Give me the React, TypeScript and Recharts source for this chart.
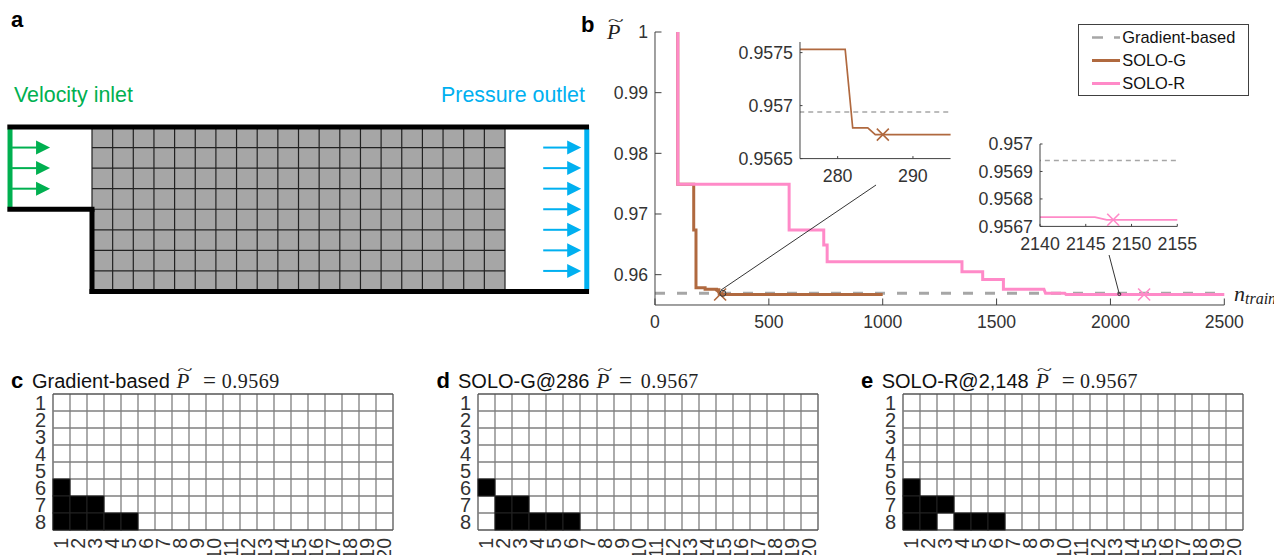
import {
  ComposedChart,
  Line,
  Scatter,
  XAxis,
  YAxis,
  Legend,
  ReferenceLine,
  ReferenceArea,
  ReferenceDot,
} from "recharts";

const SANS = "'Liberation Sans', Arial, sans-serif";
const SERIF = "'Liberation Serif', serif";
const GRAY = "#a6a6a6";
const BROWN = "#b0693f";
const PINK = "#ff8ac8";
const AXIS = "#404040";
const GREEN = "#00b050";
const CYAN = "#00b0f0";

// panel b: convergence curves
const gradientX = [0, 2500];
const gradientY = [0.95694, 0.95694];

const soloGX = [100, 100, 170, 170, 180, 180, 220, 220, 270, 270, 281, 282, 284, 285, 1000];
const soloGY = [1, 0.9749, 0.9749, 0.96737, 0.96737, 0.95785, 0.95785, 0.9576, 0.9576, 0.95753, 0.95753, 0.956789, 0.956789, 0.956726, 0.956726];

const soloRX = [100, 100, 589, 589, 741, 741, 756, 756, 1348, 1348, 1439, 1439, 1530, 1530, 1708, 1715, 1800, 1805, 2146, 2147.3, 2500];
const soloRY = [1, 0.9749, 0.9749, 0.96737, 0.96737, 0.9649, 0.9649, 0.96214, 0.96214, 0.9605, 0.9605, 0.9592, 0.9592, 0.9576, 0.9576, 0.95692, 0.95692, 0.956734, 0.956734, 0.956724, 0.956724];

const bestG = [{ x: 286, y: 0.956726 }];
const bestR = [{ x: 2148, y: 0.956724 }];

const mainXTicks = [0, 500, 1000, 1500, 2000, 2500];
const mainYTicks = [0.96, 0.97, 0.98, 0.99, 1];
const insetGXTicks = [280, 290];
const insetGYTicks = [0.9565, 0.957, 0.9575];
const insetRXTicks = [2140, 2145, 2150, 2155];
const insetRYTicks = [0.9567, 0.9568, 0.9569, 0.957];

// panel c, d, e: filled design cells per row
const rowLabels = [1, 2, 3, 4, 5, 6, 7, 8];
const colLabels = [1, 2, 3, 4, 5, 6, 7, 8, 9, 10, 11, 12, 13, 14, 15, 16, 17, 18, 19, 20];
const gradientCells: [number, number[]][] = [[6, [1]], [7, [1, 2, 3]], [8, [1, 2, 3, 4, 5]]];
const soloGCells: [number, number[]][] = [[6, [1]], [7, [2, 3]], [8, [2, 3, 4, 5, 6]]];
const soloRCells: [number, number[]][] = [[6, [1]], [7, [1, 2, 3]], [8, [1, 2, 4, 5, 6]]];

// panel a: geometry in cell units
const meshCols = [0, 1, 2, 3, 4, 5, 6, 7, 8, 9, 10, 11, 12, 13, 14, 15, 16, 17, 18, 19, 20];
const meshRows = [0, 1, 2, 3, 4, 5, 6, 7, 8];
const walls = [
  [-4.1, 0, 24.07, 0],
  [-4.1, 4, 0.12, 4],
  [0, 4, 0, 8.12],
  [-0.12, 8, 24.07, 8],
];
const inletWall = [-3.97, 0.1, -3.97, 3.9];
const outletWall = [23.96, 0.1, 23.96, 7.9];
const inletArrows = [{ x: -3.87, y: 1 }, { x: -3.87, y: 2 }, { x: -3.87, y: 3 }];
const outletArrows = [1, 2, 3, 4, 5, 6, 7].map((y) => ({ x: 21.85, y }));

const zip = (xs: number[], ys: number[]) => xs.map((x, i) => ({ x, y: ys[i] }));

const makeTick =
  (side: string, len: number, size: number, gap: number, fmt?: (v: number) => string) =>
  (props: any) => {
    const { x, y, payload } = props;
    const label = fmt ? fmt(payload.value) : "";
    if (side === "bottom")
      return (
        <g>
          <line x1={x} x2={x} y1={y} y2={y - len} stroke={AXIS} />
          <text x={x} y={y + gap + size * 0.36} textAnchor="middle" fontSize={size} fontFamily={SANS} fill="#333">
            {label}
          </text>
        </g>
      );
    if (side === "left")
      return (
        <g>
          <line x1={x} x2={x + len} y1={y} y2={y} stroke={AXIS} />
          <text x={x - gap} y={y + size * 0.36} textAnchor="end" fontSize={size} fontFamily={SANS} fill="#333">
            {label}
          </text>
        </g>
      );
    if (side === "top") return <line x1={x} x2={x} y1={y} y2={y + len} stroke={AXIS} />;
    return <line x1={x} x2={x - len} y1={y} y2={y} stroke={AXIS} />;
  };

const Cross = (color: string) => (props: any) => {
  const { cx, cy } = props;
  return (
    <path d={`M${cx - 6} ${cy - 6}L${cx + 6} ${cy + 6}M${cx - 6} ${cy + 6}L${cx + 6} ${cy - 6}`} stroke={color} strokeWidth={1.6} fill="none" />
  );
};

const Arrow = (color: string) => (props: any) => {
  const { cx, cy } = props;
  return (
    <g>
      <line x1={cx} x2={cx + 25} y1={cy} y2={cy} stroke={color} strokeWidth={2} />
      <path d={`M${cx + 24} ${cy - 7}L${cx + 38} ${cy}L${cx + 24} ${cy + 7}Z`} fill={color} />
    </g>
  );
};

const Square = (props: any) => (
  <rect x={props.cx - 8.5} y={props.cy - 8.5} width={17} height={17} fill="#000" stroke="#222" strokeWidth={1} />
);

const LegendBox = (props: any) => (
  <div style={{ width: 171, height: 72, boxSizing: "border-box", border: `1px solid ${AXIS}`, background: "#fff", position: "relative" }}>
    {(props.payload || [])
      .filter((p: any) => p.type !== "none")
      .map((p: any, i: number) => (
        <div key={p.value} style={{ position: "absolute", left: 0, top: 1 + i * 23, height: 23, width: 170 }}>
          <svg width={44} height={23} style={{ position: "absolute", left: 0, top: 0 }}>
            <line x1={13} x2={41} y1={11.5} y2={11.5} stroke={p.color} strokeWidth={i === 0 ? 2.5 : 3} strokeDasharray={i === 0 ? "11 11" : undefined} />
          </svg>
          <span style={{ position: "absolute", left: 43, top: 2, fontFamily: SANS, fontSize: 16.4, lineHeight: "19px", color: "#111", whiteSpace: "nowrap" }}>{p.value}</span>
        </div>
      ))}
  </div>
);

const MainChart = () => {
  const L = 655;
  const W = 569.3;
  return (
    <div style={{ position: "absolute", left: L - 60, top: 2 }}>
      <ComposedChart width={W + 60 + 50} height={303 + 40} margin={{ top: 30, right: 50, left: 0, bottom: 0 }}>
        <XAxis dataKey="x" type="number" domain={[0, 2500]} ticks={mainXTicks} interval={0} height={40} tickSize={0} tickMargin={0} tickLine={false} stroke={AXIS} tick={makeTick("bottom", 6.5, 17.6, 17, String)} />
        <YAxis dataKey="y" type="number" domain={[0.955, 1]} ticks={mainYTicks} interval={0} width={60} tickSize={0} tickMargin={0} tickLine={false} stroke={AXIS} tick={makeTick("left", 6.5, 17.6, 7, String)} />
        <Line name="Gradient-based" data={zip(gradientX, gradientY)} dataKey="y" type="linear" stroke={GRAY} strokeWidth={3} strokeDasharray="10 12" dot={false} isAnimationActive={false} />
        <Line name="SOLO-G" data={zip(soloGX, soloGY)} dataKey="y" type="linear" stroke={BROWN} strokeWidth={3} dot={false} isAnimationActive={false} />
        <Line name="SOLO-R" data={zip(soloRX, soloRY)} dataKey="y" type="linear" stroke={PINK} strokeWidth={3} dot={false} isAnimationActive={false} />
        <Scatter data={bestG} dataKey="y" legendType="none" shape={Cross(BROWN)} isAnimationActive={false} />
        <Scatter data={bestR} dataKey="y" legendType="none" shape={Cross(PINK)} isAnimationActive={false} />
        <ReferenceLine segment={[{ x: 290, y: 0.95747 }, { x: 970.6, y: 0.97478 }]} stroke="#333" strokeWidth={1} ifOverflow="visible" />
        <ReferenceLine segment={[{ x: 1994, y: 0.96324 }, { x: 2039, y: 0.9568 }]} stroke="#333" strokeWidth={1} ifOverflow="visible" />
        <ReferenceDot x={298} y={0.95692} r={3} fill="none" stroke="#333" strokeWidth={1} ifOverflow="visible" />
        <ReferenceDot x={2039} y={0.9568} r={1.5} fill="none" stroke="#333" strokeWidth={1} ifOverflow="visible" />
        <Legend layout="horizontal" verticalAlign="middle" align="center" content={LegendBox} wrapperStyle={{ left: 1078.3 - (L - 60), top: 21.7, width: 171, height: 72 }} />
      </ComposedChart>
    </div>
  );
};

const Inset = ({ left, top, w, h, xDomain, yDomain, xTicks, yTicks, color, xs, ys, best, xGap }: any) => (
  <div style={{ position: "absolute", left: left - 70, top: top - 12 }}>
    <ComposedChart width={w + 70 + 30} height={h + 12 + 32} margin={{ top: 12, right: 30, left: 0, bottom: 0 }}>
      <XAxis dataKey="x" type="number" allowDataOverflow domain={xDomain} ticks={xTicks} interval={0} height={32} tickSize={0} tickMargin={0} tickLine={false} stroke={AXIS} tick={makeTick("bottom", 2.5, 17.8, xGap, String)} />
      <XAxis xAxisId="top" orientation="top" dataKey="x" type="number" allowDataOverflow domain={xDomain} ticks={xTicks} interval={0} height={0} tickSize={0} tickMargin={0} tickLine={false} stroke={AXIS} tick={makeTick("top", 2.5, 0, 0)} />
      <YAxis dataKey="y" type="number" allowDataOverflow domain={yDomain} ticks={yTicks} interval={0} width={70} tickSize={0} tickMargin={0} tickLine={false} stroke={AXIS} tick={makeTick("left", 2.5, 17.8, 7, String)} />
      <YAxis yAxisId="right" orientation="right" dataKey="y" type="number" allowDataOverflow domain={yDomain} ticks={yTicks} interval={0} width={0} tickSize={0} tickMargin={0} tickLine={false} stroke={AXIS} tick={makeTick("right", 2.5, 0, 0)} />
      <Line data={zip(gradientX, gradientY)} dataKey="y" type="linear" stroke={GRAY} strokeWidth={1.4} strokeDasharray="5 4" dot={false} isAnimationActive={false} />
      <Line data={zip(xs, ys)} dataKey="y" type="linear" stroke={color} strokeWidth={1.7} dot={false} isAnimationActive={false} />
      {/* second pair of axes only carries the box ticks */}
      <Line xAxisId="top" yAxisId="right" data={zip(xs, ys)} dataKey="y" type="linear" stroke="none" dot={false} isAnimationActive={false} />
      <Scatter data={best} dataKey="y" shape={Cross(color)} isAnimationActive={false} />
    </ComposedChart>
  </div>
);

const DesignGrid = ({ left, cells }: { left: number; cells: [number, number[]][] }) => (
  <div style={{ position: "absolute", left: left - 30, top: 394.3 - 5 }}>
    <ComposedChart width={340 + 30 + 5} height={136 + 5 + 40} margin={{ top: 5, right: 5, left: 0, bottom: 0 }}>
      <XAxis dataKey="x" type="number" domain={[0.5, 20.5]} ticks={colLabels} interval={0} height={40} tickSize={0} tickMargin={0} axisLine={false} tickLine={false}
        tick={(p: any) => (
          <text transform={`rotate(-90 ${p.x + 6.8} ${p.y + 8})`} x={p.x + 6.8} y={p.y + 8} textAnchor="end" fontSize={19.5} fontFamily={SANS} fill="#333">
            {p.payload.value}
          </text>
        )}
      />
      <YAxis dataKey="y" type="number" reversed domain={[0.5, 8.5]} ticks={rowLabels} interval={0} width={30} tickSize={0} tickMargin={0} axisLine={false} tickLine={false}
        tick={(p: any) => (
          <text x={p.x - 7} y={p.y + 7.2} textAnchor="end" fontSize={20} fontFamily={SANS} fill="#333">
            {p.payload.value}
          </text>
        )}
      />
      <Scatter
        data={cells.flatMap(([row, cols]) => cols.map((c) => ({ x: c, y: row })))}
        dataKey="y"
        shape={Square}
        isAnimationActive={false}
      />
      {[0, ...colLabels].map((c) => (
        <ReferenceLine key={`v${c}`} x={c + 0.5} stroke={c === 0 || c === 20 ? "#555" : "#7f7f7f"} strokeWidth={1.3} />
      ))}
      {[0, ...rowLabels].map((r) => (
        <ReferenceLine key={`h${r}`} y={r + 0.5} stroke={r === 0 || r === 8 ? "#555" : "#7f7f7f"} strokeWidth={1.3} />
      ))}
    </ComposedChart>
  </div>
);

const Schematic = () => (
  <div style={{ position: "absolute", left: 0, top: 110 }}>
    <ComposedChart width={600} height={190} margin={{ top: 0, right: 0, left: 0, bottom: 0 }}>
      <XAxis dataKey="x" type="number" hide domain={[-4.455, 24.6]} />
      <YAxis dataKey="y" type="number" hide reversed domain={[-0.827, 8.414]} />
      <ReferenceArea x1={0} x2={20} y1={0} y2={8} fill={GRAY} fillOpacity={1} stroke="none" />
      {meshCols.map((c) => (
        <ReferenceLine key={`c${c}`} segment={[{ x: c, y: 0 }, { x: c, y: 8 }]} stroke="#222" strokeWidth={1.2} />
      ))}
      {meshRows.map((r) => (
        <ReferenceLine key={`r${r}`} segment={[{ x: 0, y: r }, { x: 20, y: r }]} stroke="#222" strokeWidth={1.2} />
      ))}
      <ReferenceLine segment={[{ x: inletWall[0], y: inletWall[1] }, { x: inletWall[2], y: inletWall[3] }]} stroke={GREEN} strokeWidth={5} />
      <ReferenceLine segment={[{ x: outletWall[0], y: outletWall[1] }, { x: outletWall[2], y: outletWall[3] }]} stroke={CYAN} strokeWidth={5} />
      {walls.map((w) => (
        <ReferenceLine key={w.join()} segment={[{ x: w[0], y: w[1] }, { x: w[2], y: w[3] }]} stroke="#000" strokeWidth={5} />
      ))}
      <Scatter data={inletArrows} dataKey="y" shape={Arrow(GREEN)} isAnimationActive={false} />
      <Scatter data={outletArrows} dataKey="y" shape={Arrow(CYAN)} isAnimationActive={false} />
    </ComposedChart>
  </div>
);

// widetilde P used in the math text
const MathP = ({ x, y, size }: { x: number; y: number; size: number }) => (
  <g fontFamily={SERIF}>
    <text x={x} y={y} fontSize={size} fontStyle="italic" fill="#222">P</text>
    <text x={0} y={0} fontSize={size} fill="#222" textAnchor="middle" transform={`translate(${x + size * 0.4} ${y - size * 0.6}) scale(1.35 0.7)`}>~</text>
  </g>
);

const Title = ({ letter, lx, text, tx, px, ex, nx, value }: any) => (
  <g>
    <text x={lx} y={388} fontSize={22} fontWeight="bold" fontFamily={SANS} fill="#000">{letter}</text>
    <text x={tx} y={388} fontSize={20} fontFamily={SANS} fill="#111">{text}</text>
    <MathP x={px} y={388} size={21} />
    <text x={ex} y={388} fontSize={23} fontFamily={SERIF} fill="#222">=</text>
    <text x={nx} y={388} fontSize={20} fontFamily={SERIF} fill="#222" textLength={57.6}>{value}</text>
  </g>
);

export default function App() {
  return (
    <div style={{ position: "absolute", left: 0, top: 0, width: 1274, height: 555, overflow: "hidden", background: "#fff" }}>
      <Schematic />
      <MainChart />
      <Inset left={799.7} top={41.7} w={150.6} h={116.6} xDomain={[275, 295]} yDomain={[0.9565, 0.9576]} xTicks={insetGXTicks} yTicks={insetGYTicks} color={BROWN} xs={soloGX} ys={soloGY} best={bestG} xGap={17} />
      <Inset left={1040} top={144.3} w={137.3} h={82.4} xDomain={[2140, 2155]} yDomain={[0.9567, 0.957]} xTicks={insetRXTicks} yTicks={insetRYTicks} color={PINK} xs={soloRX} ys={soloRY} best={bestR} xGap={17} />
      <DesignGrid left={53.3} cells={gradientCells} />
      <DesignGrid left={478.3} cells={soloGCells} />
      <DesignGrid left={903.3} cells={soloRCells} />
      <svg width={1274} height={555} style={{ position: "absolute", left: 0, top: 0, pointerEvents: "none" }}>
        <text x={11} y={27} fontSize={22} fontWeight="bold" fontFamily={SANS}>a</text>
        <text x={581} y={32} fontSize={22} fontWeight="bold" fontFamily={SANS}>b</text>
        <text x={14} y={101.5} fontSize={21.4} fontFamily={SANS} fill={GREEN}>Velocity inlet</text>
        <text x={441} y={102} fontSize={21.4} fontFamily={SANS} fill={CYAN}>Pressure outlet</text>
        <MathP x={607} y={39} size={22} />
        <text x={1234} y={301} fontFamily={SERIF} fontStyle="italic" fill="#222" fontSize={22}>
          n<tspan fontSize={16} dy={3}>train</tspan>
        </text>
        <Title letter="c" lx={11} text="Gradient-based" tx={32} px={176.5} ex={203} nx={221.7} value="0.9569" />
        <Title letter="d" lx={436.5} text="SOLO-G@286" tx={458} px={596.5} ex={619} nx={640.7} value="0.9567" />
        <Title letter="e" lx={861} text="SOLO-R@2,148" tx={881.7} px={1036} ex={1061.7} nx={1080} value="0.9567" />
      </svg>
    </div>
  );
}
